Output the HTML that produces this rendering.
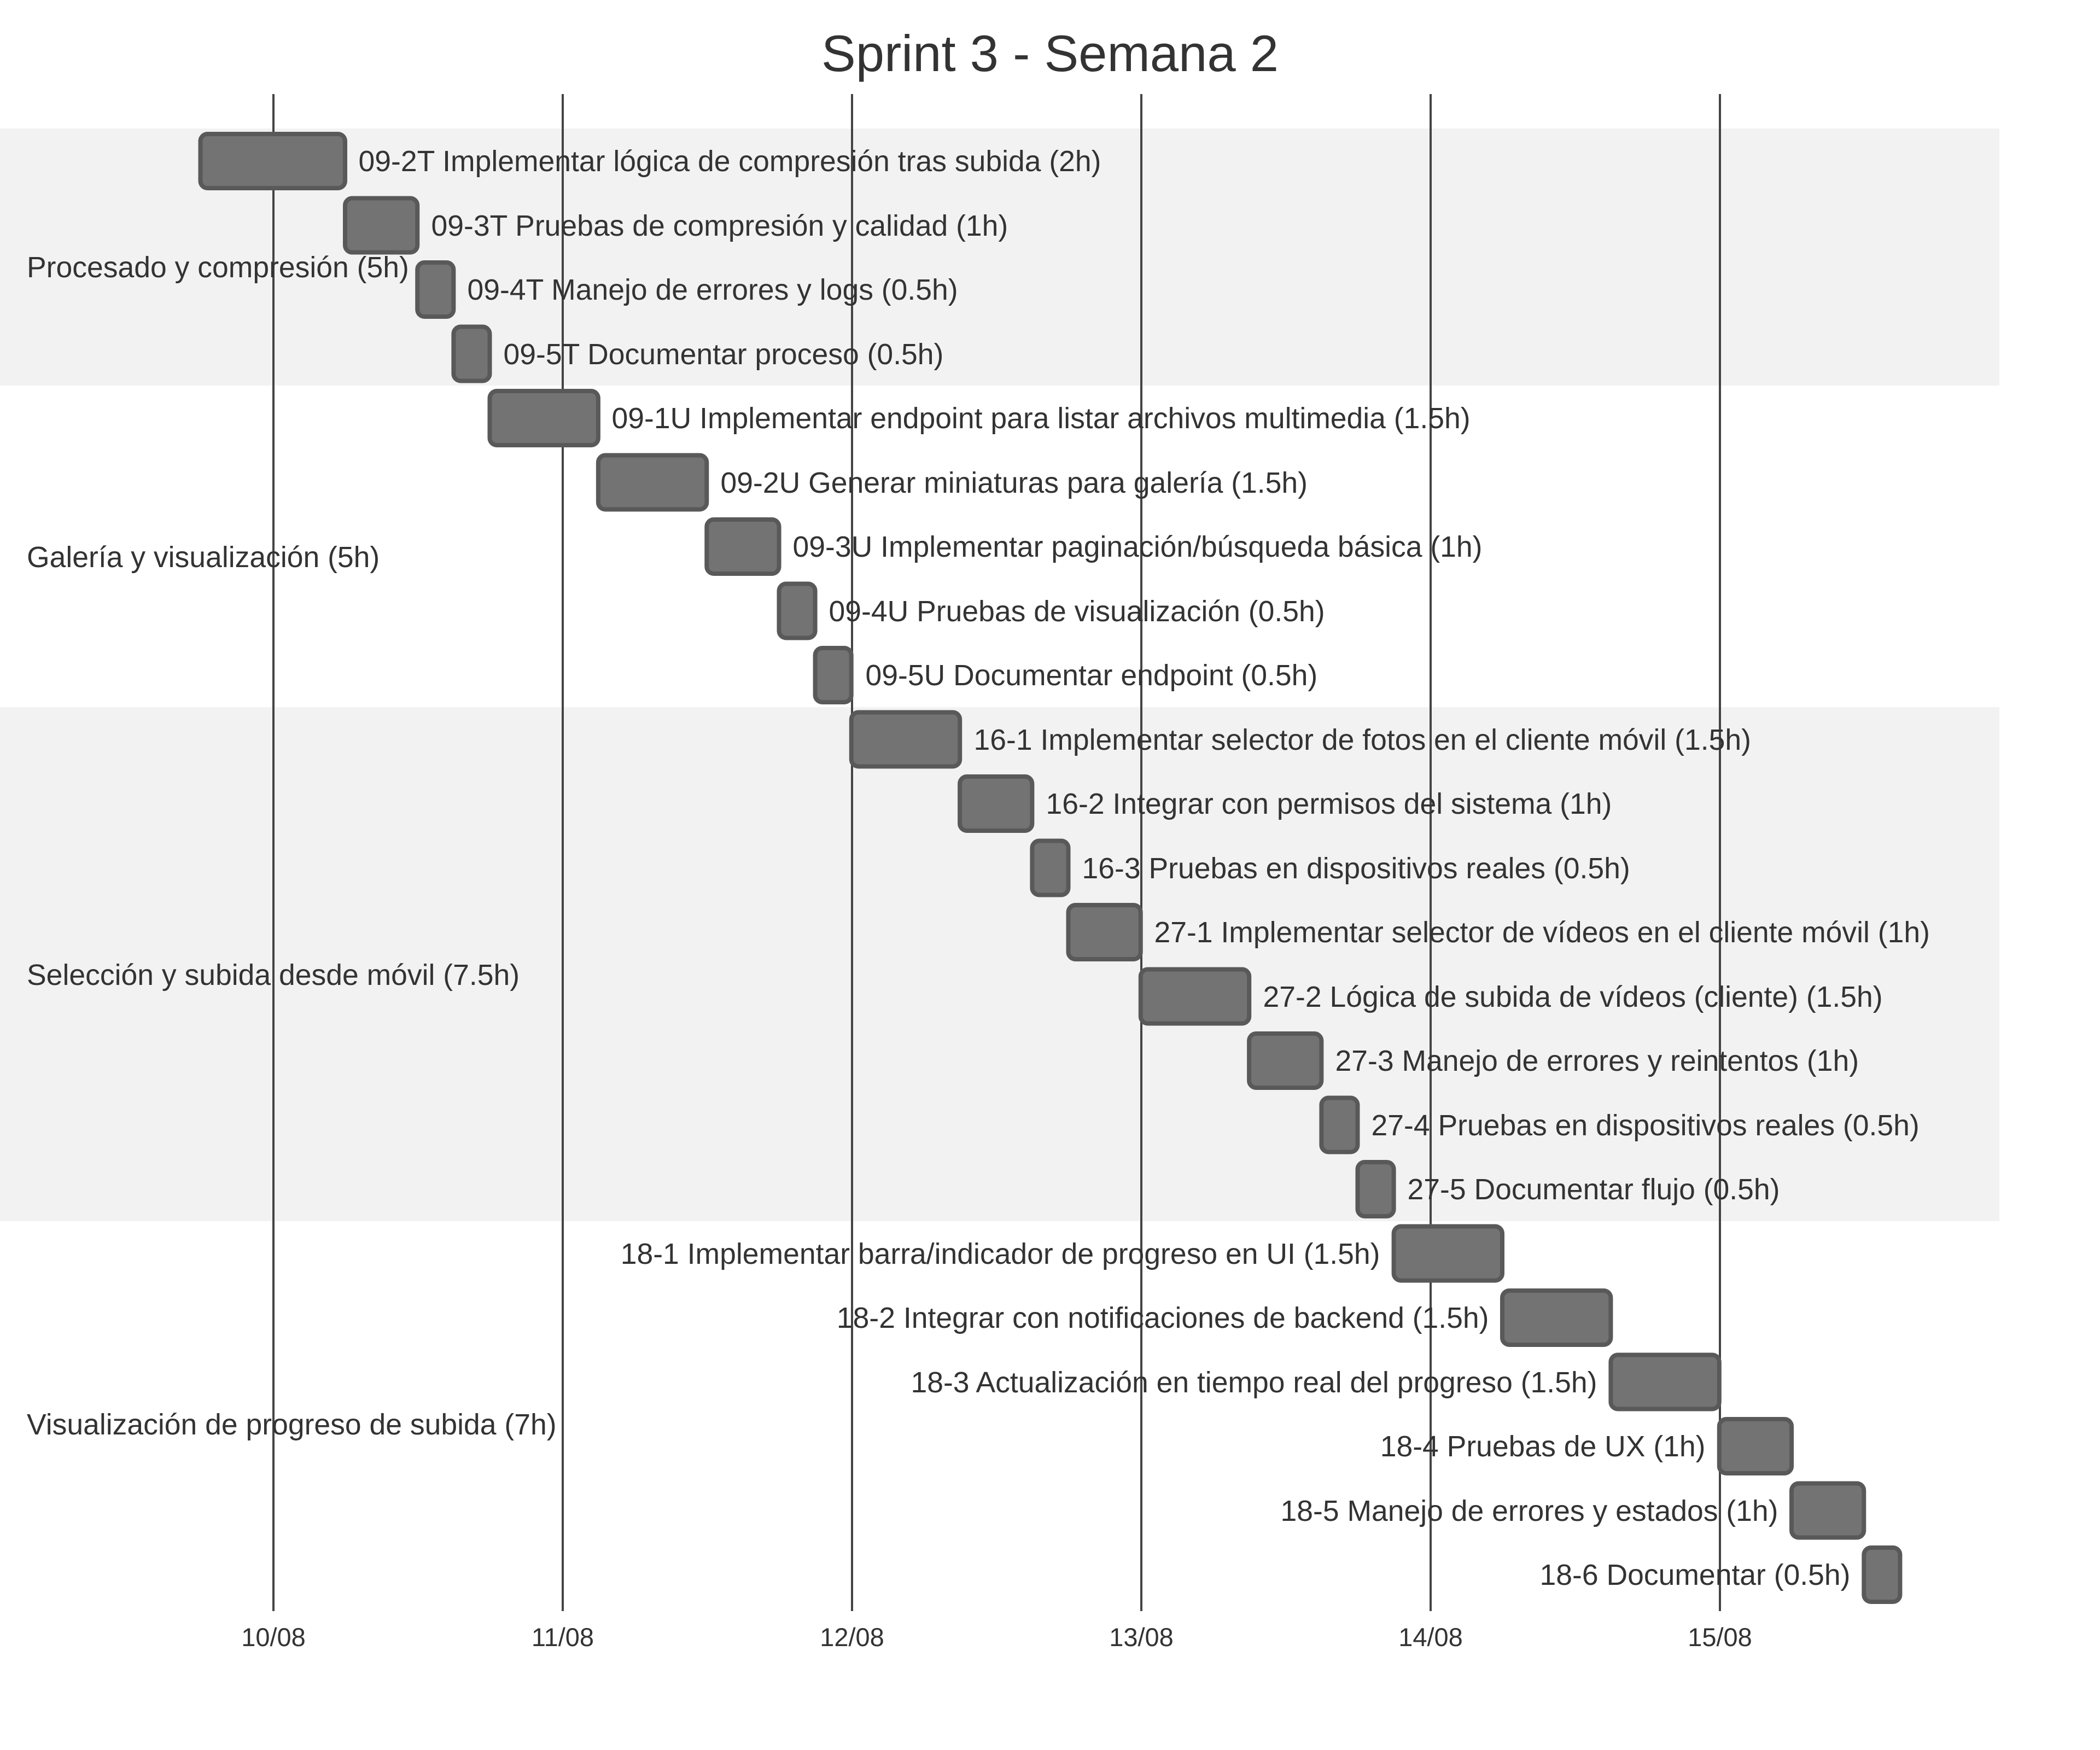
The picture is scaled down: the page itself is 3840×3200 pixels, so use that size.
<!DOCTYPE html>
<html><head><meta charset="utf-8"><style>
html,body{margin:0;padding:0;background:#fff;}
svg{display:block;}
text{font-family:"Liberation Sans",Arial,sans-serif;fill:#333;}
</style></head><body>
<svg width="3840" height="3200" viewBox="0 0 3840 3200" xmlns="http://www.w3.org/2000/svg">
<rect x="0" y="0" width="3840" height="3200" fill="#fff"/>
<rect x="0" y="235" width="3656" height="470" fill="#f2f2f2"/>
<rect x="0" y="1293" width="3656" height="940" fill="#f2f2f2"/>
<g stroke="#444" stroke-width="4">
<line x1="500" y1="172" x2="500" y2="2946"/>
<line x1="1029" y1="172" x2="1029" y2="2946"/>
<line x1="1558" y1="172" x2="1558" y2="2946"/>
<line x1="2087" y1="172" x2="2087" y2="2946"/>
<line x1="2616" y1="172" x2="2616" y2="2946"/>
<line x1="3145" y1="172" x2="3145" y2="2946"/>
</g>
<g font-size="47" text-anchor="middle">
<text x="500" y="3010">10/08</text>
<text x="1029" y="3010">11/08</text>
<text x="1558" y="3010">12/08</text>
<text x="2087" y="3010">13/08</text>
<text x="2616" y="3010">14/08</text>
<text x="3145" y="3010">15/08</text>
</g>
<text x="1920" y="130" font-size="94" text-anchor="middle">Sprint 3 - Semana 2</text>
<g font-size="53.5">
<text x="49" y="507">Procesado y compresión (5h)</text>
<text x="49" y="1037">Galería y visualización (5h)</text>
<text x="49" y="1801">Selección y subida desde móvil (7.5h)</text>
<text x="49" y="2623">Visualización de progreso de subida (7h)</text>
</g>
<g transform="translate(-1.5,0)">
<g fill="#737373" stroke="#595959" stroke-width="8">
<rect x="368" y="245" width="264.5" height="99" rx="13"/>
<rect x="632.5" y="362.5" width="132.25" height="99" rx="13"/>
<rect x="764.75" y="480" width="66.1" height="99" rx="13"/>
<rect x="830.9" y="597.5" width="66.1" height="99" rx="13"/>
<rect x="897" y="715" width="198.4" height="99" rx="13"/>
<rect x="1095.4" y="832.5" width="198.4" height="99" rx="13"/>
<rect x="1293.8" y="950" width="132.25" height="99" rx="13"/>
<rect x="1426" y="1067.5" width="66.1" height="99" rx="13"/>
<rect x="1492.1" y="1185" width="66.1" height="99" rx="13"/>
<rect x="1558.3" y="1302.5" width="198.4" height="99" rx="13"/>
<rect x="1756.6" y="1420" width="132.25" height="99" rx="13"/>
<rect x="1888.9" y="1537.5" width="66.1" height="99" rx="13"/>
<rect x="1955" y="1655" width="132.25" height="99" rx="13"/>
<rect x="2087.3" y="1772.5" width="198.4" height="99" rx="13"/>
<rect x="2285.6" y="1890" width="132.25" height="99" rx="13"/>
<rect x="2417.9" y="2007.5" width="66.1" height="99" rx="13"/>
<rect x="2484" y="2125" width="66.1" height="99" rx="13"/>
<rect x="2550.1" y="2242.5" width="198.4" height="99" rx="13"/>
<rect x="2748.5" y="2360" width="198.4" height="99" rx="13"/>
<rect x="2946.9" y="2477.5" width="198.4" height="99" rx="13"/>
<rect x="3145.3" y="2595" width="132.25" height="99" rx="13"/>
<rect x="3277.5" y="2712.5" width="132.25" height="99" rx="13"/>
<rect x="3409.8" y="2830" width="66.1" height="99" rx="13"/>
</g>
<g font-size="53.5">
<text x="657" y="313">09-2T Implementar lógica de compresión tras subida (2h)</text>
<text x="790" y="431">09-3T Pruebas de compresión y calidad (1h)</text>
<text x="856" y="548">09-4T Manejo de errores y logs (0.5h)</text>
<text x="922" y="666">09-5T Documentar proceso (0.5h)</text>
<text x="1120" y="783">09-1U Implementar endpoint para listar archivos multimedia (1.5h)</text>
<text x="1319" y="901">09-2U Generar miniaturas para galería (1.5h)</text>
<text x="1451" y="1018">09-3U Implementar paginación/búsqueda básica (1h)</text>
<text x="1517" y="1136">09-4U Pruebas de visualización (0.5h)</text>
<text x="1584" y="1253">09-5U Documentar endpoint (0.5h)</text>
<text x="1782" y="1371">16-1 Implementar selector de fotos en el cliente móvil (1.5h)</text>
<text x="1914" y="1488">16-2 Integrar con permisos del sistema (1h)</text>
<text x="1980" y="1606">16-3 Pruebas en dispositivos reales (0.5h)</text>
<text x="2112" y="1723">27-1 Implementar selector de vídeos en el cliente móvil (1h)</text>
<text x="2311" y="1841">27-2 Lógica de subida de vídeos (cliente) (1.5h)</text>
<text x="2443" y="1958">27-3 Manejo de errores y reintentos (1h)</text>
<text x="2509" y="2076">27-4 Pruebas en dispositivos reales (0.5h)</text>
<text x="2575" y="2193">27-5 Documentar flujo (0.5h)</text>
</g>
<g font-size="53.5" text-anchor="end">
<text x="2525" y="2311">18-1 Implementar barra/indicador de progreso en UI (1.5h)</text>
<text x="2724" y="2428">18-2 Integrar con notificaciones de backend (1.5h)</text>
<text x="2922" y="2546">18-3 Actualización en tiempo real del progreso (1.5h)</text>
<text x="3120" y="2663">18-4 Pruebas de UX (1h)</text>
<text x="3253" y="2781">18-5 Manejo de errores y estados (1h)</text>
<text x="3385" y="2898">18-6 Documentar (0.5h)</text>
</g>
</g>
</svg>
</body></html>
